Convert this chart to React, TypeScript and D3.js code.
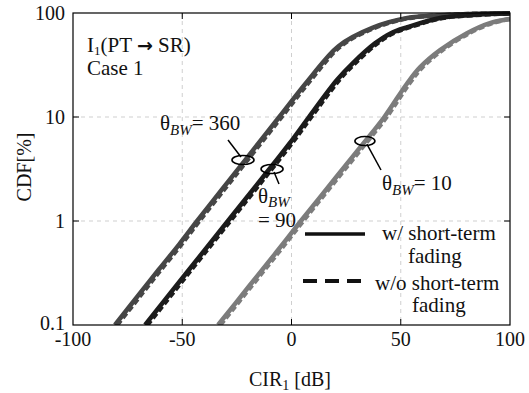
import React from "react";
import * as d3 from "d3";

// CDF levels [%] and CIR values [dB]
const cdf360 = [0.1, 0.2, 0.34, 0.6, 1.0, 2.0, 3.9, 10, 22.7, 48, 72, 89.5, 95, 98.5, 99.6];
const cir360Fading = [-80.8, -69.5, -60.8, -51.3, -43.2, -31.9, -21, -5.6, 7.8, 21.5, 37, 53, 68, 84, 100];
const cir360NoFading = [-79.8, -68.5, -59.8, -50.3, -42.2, -30.9, -20, -4.6, 8.8, 22.5, 38, 54, 69, 85, 100];

const cdf90 = [0.1, 0.34, 1.0, 2.65, 5.6, 10, 22.7, 33, 51, 64, 73, 89.5, 95.6, 99.2];
const cir90Fading = [-67, -46.9, -29.1, -13, -0.8, 8.0, 20.8, 28.1, 38.2, 45.5, 53, 68, 83, 100];
const cir90NoFading = [-66, -45.9, -28.1, -12, 0.2, 9.0, 21.8, 29.1, 39.2, 46.5, 54, 69, 84, 100];

const cdf10 = [0.1, 0.232, 0.49, 1.0, 2.65, 5.6, 10, 21, 30, 44, 64, 80, 87.5];
const cir10Fading = [-33.6, -19.7, -7.3, 4.3, 20.5, 33, 42.5, 52.9, 58.8, 68, 80.3, 90.8, 100];
const cir10NoFading = [-32.6, -18.7, -6.3, 5.3, 21.5, 34, 43.5, 53.9, 59.8, 69, 81.3, 91.8, 100];

const xTicks = [-100, -50, 0, 50, 100];
const yTicks = [0.1, 1, 10, 100];
const yTickLabels = ["0.1", "1", "10", "100"];
const xGrid = [-50, 0, 50];
const yGrid = [1, 10];

const W = 529, H = 393;
const L = 73, R = 510, T = 13, B = 325;
const FONT = "'Liberation Serif', 'Times New Roman', serif";

export default function App() {
  const x = d3.scaleLinear().domain([-100, 100]).range([L, R]);
  const y = d3.scaleLog().domain([0.1, 100]).range([B, T]);
  const line = d3
    .line<[number, number]>()
    .x((d) => x(d[0]))
    .y((d) => y(d[1]))
    .curve(d3.curveCatmullRom.alpha(0.5));

  const mk = (xs: number[], ys: number[]) => xs.map((v, i) => [v, ys[i]] as [number, number]);

  const series = [
    { color: "#7c7c7c", cdf: cdf10, a: cir10Fading, b: cir10NoFading },
    { color: "#464646", cdf: cdf360, a: cir360Fading, b: cir360NoFading },
    { color: "#1c1c1c", cdf: cdf90, a: cir90Fading, b: cir90NoFading },
  ];

  const e360 = [x(-22.2), y(3.86)];
  const e90 = [x(-8.9), y(3.16)];
  const e10 = [x(33.6), y(5.87)];

  return (
    <svg width={W} height={H} style={{ position: "absolute", left: 0, top: 0, background: "#fff" }} fontFamily={FONT}>
      <defs>
        <clipPath id="plot">
          <rect x={L} y={T - 2} width={R - L} height={B - T + 2} />
        </clipPath>
      </defs>
      {/* grid */}
      {xGrid.map((v) => (
        <line key={"gx" + v} x1={x(v)} x2={x(v)} y1={T} y2={B} stroke="#cfcfcf" strokeDasharray="4,4" />
      ))}
      {yGrid.map((v) => (
        <line key={"gy" + v} x1={L} x2={R} y1={y(v)} y2={y(v)} stroke="#cfcfcf" strokeDasharray="4,4" />
      ))}
      {/* curves */}
      <g clipPath="url(#plot)" fill="none">
        {series.map((s, i) => (
          <g key={i}>
            <path d={line(mk(s.a, s.cdf)) || ""} stroke={s.color} strokeWidth={4.5} />
            <path d={line(mk(s.b, s.cdf)) || ""} stroke={s.color} strokeWidth={4.5} strokeDasharray="6,3" />
          </g>
        ))}
      </g>
      {/* frame */}
      <rect x={L} y={T} width={R - L} height={B - T} fill="none" stroke="#000" strokeWidth={1.2} />
      {xGrid.map((v) => (
        <g key={"tx" + v}>
          <line x1={x(v)} x2={x(v)} y1={B} y2={B - 6} stroke="#000" />
          <line x1={x(v)} x2={x(v)} y1={T} y2={T + 6} stroke="#000" />
        </g>
      ))}
      {yGrid.map((v) => (
        <g key={"ty" + v}>
          <line x1={L} x2={L + 6} y1={y(v)} y2={y(v)} stroke="#000" />
          <line x1={R} x2={R - 6} y1={y(v)} y2={y(v)} stroke="#000" />
        </g>
      ))}
      {/* tick labels */}
      {xTicks.map((v) => (
        <text key={"lx" + v} x={x(v)} y={346} textAnchor="middle" fontSize={20} fill="#111">
          {v}
        </text>
      ))}
      {yTicks.map((v, i) => (
        <text key={"ly" + v} x={65} y={y(v) - (v === 0.1 ? 2 : 0)} dy="0.35em" textAnchor="end" fontSize={20} fill="#111">
          {yTickLabels[i]}
        </text>
      ))}
      {/* axis titles */}
      <text x={290} y={386} textAnchor="middle" fontSize={20} fill="#111">
        CIR<tspan fontSize={14} dy={4}>1</tspan>
        <tspan dy={-4}> [dB]</tspan>
      </text>
      <text transform={`translate(31,167) rotate(-90)`} textAnchor="middle" fontSize={20} fill="#111">
        CDF[%]
      </text>
      {/* case annotation */}
      <text x={87} y={52} fontSize={21} fill="#111">
        I<tspan fontSize={13} dy={3}>1</tspan>
        <tspan dy={-3}>(PT </tspan>
        <tspan fontFamily="'DejaVu Sans', sans-serif" fontWeight="bold" fontSize={19}>→</tspan>
        <tspan> SR)</tspan>
      </text>
      <text x={87} y={75} fontSize={21} fill="#111">
        Case 1
      </text>
      {/* theta annotations */}
      <ellipse cx={e360[0]} cy={e360[1]} rx={11} ry={4.5} fill="none" stroke="#000" strokeWidth={1.6} />
      <line x1={228} y1={140} x2={e360[0] - 2} y2={e360[1] - 3} stroke="#000" strokeWidth={1.5} />
      <text x={160} y={130} fontSize={21} fill="#111">
        θ<tspan fontSize={15} fontStyle="italic" dy={5}>BW</tspan>
        <tspan dy={-5}>= 360</tspan>
      </text>
      <ellipse cx={e90[0]} cy={e90[1]} rx={11} ry={4.5} fill="none" stroke="#000" strokeWidth={1.6} />
      <line x1={e90[0] + 2} y1={e90[1] + 3} x2={279} y2={184} stroke="#000" strokeWidth={1.5} />
      <text x={258} y={203} fontSize={21} fill="#111">
        θ<tspan fontSize={15} fontStyle="italic" dy={4}>BW</tspan>
      </text>
      <text x={258} y={227} fontSize={21} fill="#111">
        = 90
      </text>
      <ellipse cx={e10[0]} cy={e10[1]} rx={10} ry={4.5} fill="none" stroke="#000" strokeWidth={1.6} />
      <line x1={e10[0] + 2} y1={e10[1] + 3} x2={381} y2={170} stroke="#000" strokeWidth={1.5} />
      <text x={382} y={190} fontSize={21} fill="#111">
        θ<tspan fontSize={15} fontStyle="italic" dy={5}>BW</tspan>
        <tspan dy={-5}>= 10</tspan>
      </text>
      {/* legend */}
      <line x1={305} x2={365} y1={234} y2={234} stroke="#111" strokeWidth={3.5} />
      <text x={382} y={240} fontSize={21} fill="#111">w/ short-term</text>
      <text x={408} y={263} fontSize={21} fill="#111">fading</text>
      <line x1={303} x2={363} y1={281} y2={281} stroke="#111" strokeWidth={4} strokeDasharray="14,8" />
      <text x={375} y={290} fontSize={21} fill="#111">w/o short-term</text>
      <text x={412} y={312} fontSize={21} fill="#111">fading</text>
    </svg>
  );
}
